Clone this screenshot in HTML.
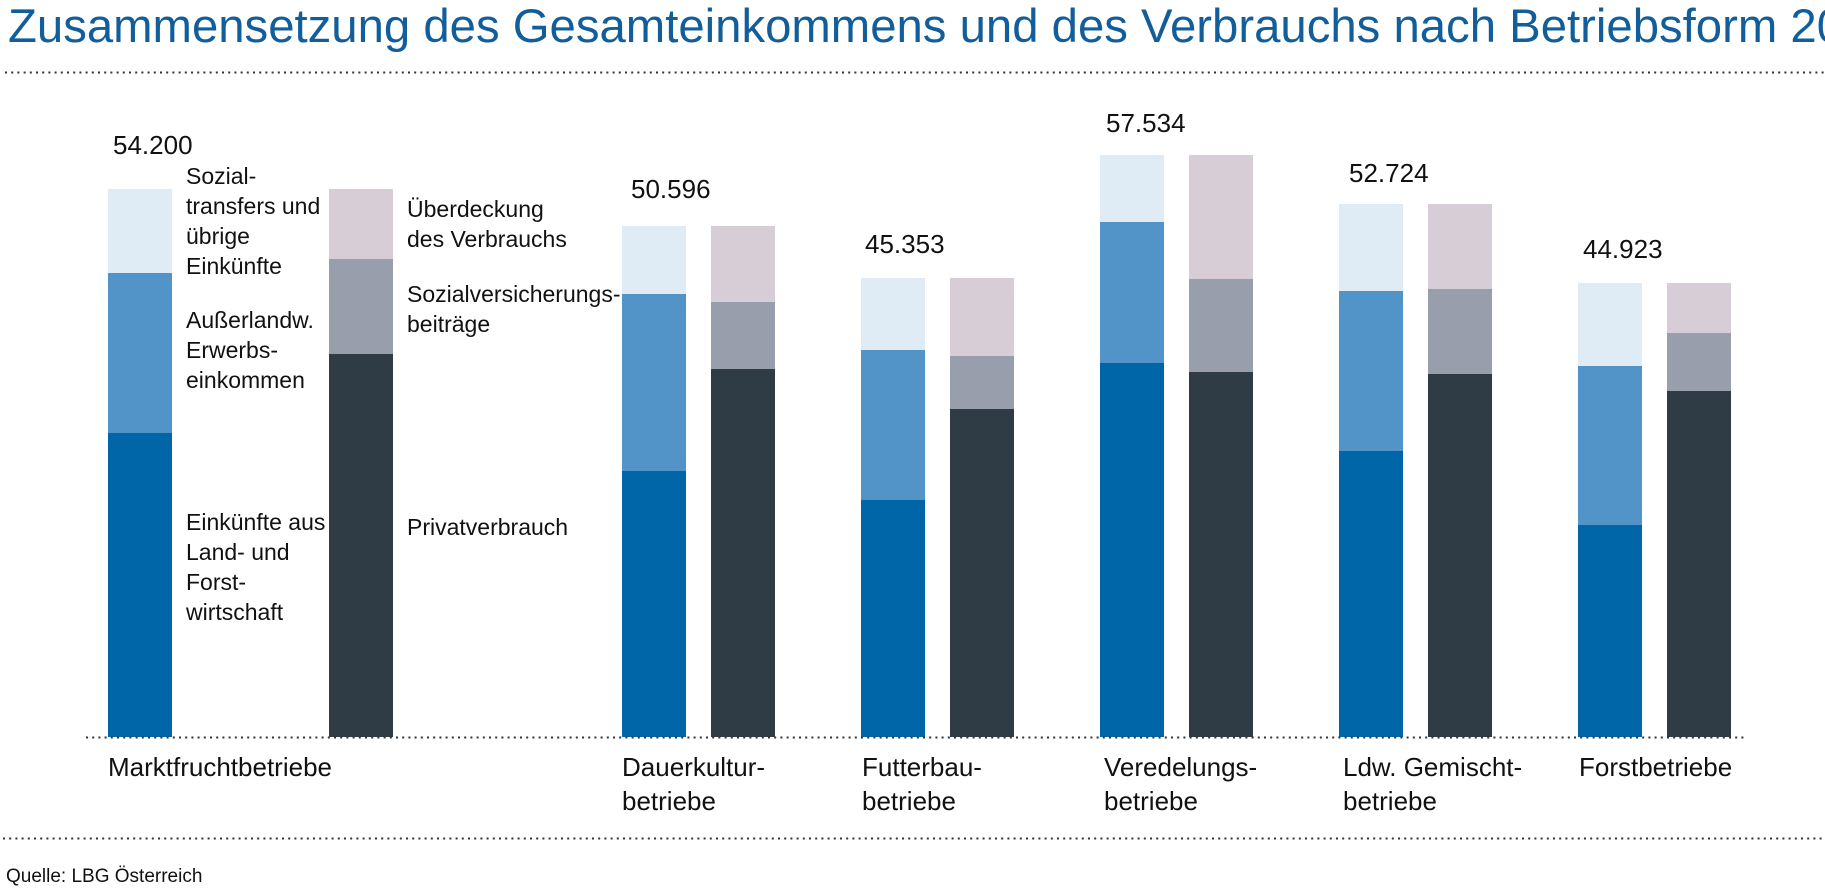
<!DOCTYPE html>
<html>
<head>
<meta charset="utf-8">
<style>
  html, body { margin:0; padding:0; background:#fff; }
  body { width:1825px; height:888px; overflow:hidden; }
  svg { display:block; }
  text { font-family: "Liberation Sans", Arial, sans-serif; fill:#111; }
  .t { font-size:47.3px; fill:#125e9b; }
  .lg { font-size:23px; }
  .num { font-size:26px; }
  .cat { font-size:26px; }
  .src { font-size:19px; }
</style>
</head>
<body>
<svg width="1825" height="888" viewBox="0 0 1825 888" xmlns="http://www.w3.org/2000/svg">
  <!-- Title -->
  <text class="t" x="8" y="42">Zusammensetzung des Gesamteinkommens und des Verbrauchs nach Betriebsform 2021</text>
  <!-- top dotted line -->
  <line x1="5" y1="72.5" x2="1825" y2="72.5" stroke="#333" stroke-width="2" stroke-dasharray="2 4.2"/>

  <!-- Bars: income (light, medium, dark blue) ; consumption (pink, gray, dark) -->
  <!-- 1 Marktfrucht -->
  <rect x="108" y="189" width="64" height="84" fill="#dfecf5"/>
  <rect x="108" y="273" width="64" height="160" fill="#5294c8"/>
  <rect x="108" y="433" width="64" height="304" fill="#0066a8"/>
  <rect x="329" y="189" width="64" height="70" fill="#d7cdd7"/>
  <rect x="329" y="259" width="64" height="95" fill="#989eab"/>
  <rect x="329" y="354" width="64" height="383" fill="#2f3c46"/>
  <!-- 2 Dauerkultur -->
  <rect x="622" y="226" width="64" height="68" fill="#dfecf5"/>
  <rect x="622" y="294" width="64" height="177" fill="#5294c8"/>
  <rect x="622" y="471" width="64" height="266" fill="#0066a8"/>
  <rect x="711" y="226" width="64" height="76" fill="#d7cdd7"/>
  <rect x="711" y="302" width="64" height="67" fill="#989eab"/>
  <rect x="711" y="369" width="64" height="368" fill="#2f3c46"/>
  <!-- 3 Futterbau -->
  <rect x="861" y="278" width="64" height="72" fill="#dfecf5"/>
  <rect x="861" y="350" width="64" height="150" fill="#5294c8"/>
  <rect x="861" y="500" width="64" height="237" fill="#0066a8"/>
  <rect x="950" y="278" width="64" height="78" fill="#d7cdd7"/>
  <rect x="950" y="356" width="64" height="53" fill="#989eab"/>
  <rect x="950" y="409" width="64" height="328" fill="#2f3c46"/>
  <!-- 4 Veredelung -->
  <rect x="1100" y="155" width="64" height="67" fill="#dfecf5"/>
  <rect x="1100" y="222" width="64" height="141" fill="#5294c8"/>
  <rect x="1100" y="363" width="64" height="374" fill="#0066a8"/>
  <rect x="1189" y="155" width="64" height="124" fill="#d7cdd7"/>
  <rect x="1189" y="279" width="64" height="93" fill="#989eab"/>
  <rect x="1189" y="372" width="64" height="365" fill="#2f3c46"/>
  <!-- 5 Ldw. Gemischt -->
  <rect x="1339" y="204" width="64" height="87" fill="#dfecf5"/>
  <rect x="1339" y="291" width="64" height="160" fill="#5294c8"/>
  <rect x="1339" y="451" width="64" height="286" fill="#0066a8"/>
  <rect x="1428" y="204" width="64" height="85" fill="#d7cdd7"/>
  <rect x="1428" y="289" width="64" height="85" fill="#989eab"/>
  <rect x="1428" y="374" width="64" height="363" fill="#2f3c46"/>
  <!-- 6 Forst -->
  <rect x="1578" y="283" width="64" height="83" fill="#dfecf5"/>
  <rect x="1578" y="366" width="64" height="159" fill="#5294c8"/>
  <rect x="1578" y="525" width="64" height="212" fill="#0066a8"/>
  <rect x="1667" y="283" width="64" height="50" fill="#d7cdd7"/>
  <rect x="1667" y="333" width="64" height="58" fill="#989eab"/>
  <rect x="1667" y="391" width="64" height="346" fill="#2f3c46"/>

  <!-- axis dotted line -->
  <line x1="86" y1="737.5" x2="1746" y2="737.5" stroke="#333" stroke-width="2" stroke-dasharray="2 4.2"/>

  <!-- Totals -->
  <text class="num" x="113" y="154">54.200</text>
  <text class="num" x="631" y="198">50.596</text>
  <text class="num" x="865" y="253">45.353</text>
  <text class="num" x="1106" y="132">57.534</text>
  <text class="num" x="1349" y="182">52.724</text>
  <text class="num" x="1583" y="258">44.923</text>

  <!-- Legend left -->
  <text class="lg" x="186" y="184">Sozial-</text>
  <text class="lg" x="186" y="214">transfers und</text>
  <text class="lg" x="186" y="244">übrige</text>
  <text class="lg" x="186" y="274">Einkünfte</text>
  <text class="lg" x="186" y="328">Außerlandw.</text>
  <text class="lg" x="186" y="358">Erwerbs-</text>
  <text class="lg" x="186" y="388">einkommen</text>
  <text class="lg" x="186" y="530">Einkünfte aus</text>
  <text class="lg" x="186" y="560">Land- und</text>
  <text class="lg" x="186" y="590">Forst-</text>
  <text class="lg" x="186" y="620">wirtschaft</text>

  <!-- Legend right -->
  <text class="lg" x="407" y="217">Überdeckung</text>
  <text class="lg" x="407" y="247">des Verbrauchs</text>
  <text class="lg" x="407" y="302">Sozialversicherungs-</text>
  <text class="lg" x="407" y="332">beiträge</text>
  <text class="lg" x="407" y="535">Privatverbrauch</text>

  <!-- Categories -->
  <text class="cat" x="108" y="776">Marktfruchtbetriebe</text>
  <text class="cat" x="622" y="776">Dauerkultur-</text>
  <text class="cat" x="622" y="810">betriebe</text>
  <text class="cat" x="862" y="776">Futterbau-</text>
  <text class="cat" x="862" y="810">betriebe</text>
  <text class="cat" x="1104" y="776">Veredelungs-</text>
  <text class="cat" x="1104" y="810">betriebe</text>
  <text class="cat" x="1343" y="776">Ldw. Gemischt-</text>
  <text class="cat" x="1343" y="810">betriebe</text>
  <text class="cat" x="1579" y="776">Forstbetriebe</text>

  <!-- bottom dotted line -->
  <line x1="3" y1="838.5" x2="1822" y2="838.5" stroke="#333" stroke-width="2" stroke-dasharray="2 4.2"/>

  <!-- Source -->
  <text class="src" x="6" y="882">Quelle: LBG Österreich</text>
</svg>
</body>
</html>
